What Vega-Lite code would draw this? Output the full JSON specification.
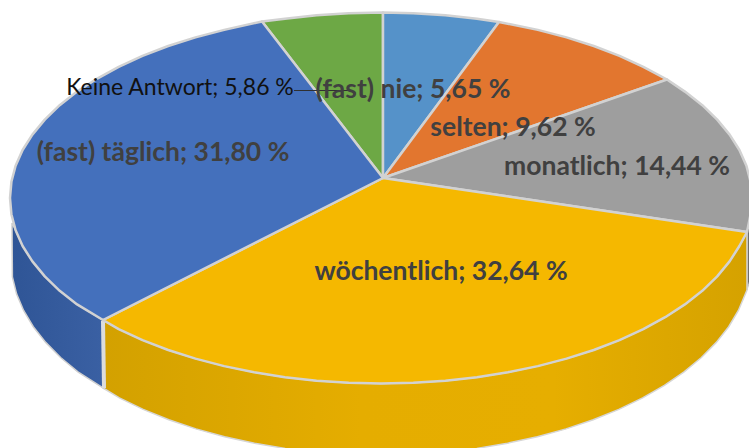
{
"$schema":"https://vega.github.io/schema/vega-lite/v6.json",
"width":749,"height":448,"autosize":{"type":"fit","contains":"padding"},"padding":0,
"background":"white","view":{"stroke":null},
"datasets":{
"yellowWall":[
{"n":1,"x":103,"y":320},{"n":2,"x":118.7,"y":329.2},{"n":3,"x":142.5,"y":340.1},{"n":4,"x":168.2,"y":350},{"n":5,"x":195.5,"y":358.6},{"n":6,"x":224.2,"y":366.1},{"n":7,"x":254.1,"y":372.3},{"n":8,"x":285,"y":377.2},{"n":9,"x":316.6,"y":380.7},{"n":10,"x":348.7,"y":382.8},{"n":11,"x":381,"y":383.5},{"n":12,"x":413.3,"y":382.8},{"n":13,"x":445.4,"y":380.7},{"n":14,"x":477,"y":377.2},{"n":15,"x":507.9,"y":372.3},{"n":16,"x":537.8,"y":366.1},{"n":17,"x":566.5,"y":358.6},{"n":18,"x":593.8,"y":350},{"n":19,"x":619.5,"y":340.1},{"n":20,"x":643.3,"y":329.2},{"n":21,"x":665.2,"y":317.2},{"n":22,"x":684.9,"y":304.4},{"n":23,"x":702.3,"y":290.8},{"n":24,"x":717.2,"y":276.4},{"n":25,"x":729.6,"y":261.4},{"n":26,"x":739.4,"y":246},{"n":27,"x":747,"y":232},
{"n":28,"x":747,"y":290},{"n":29,"x":738.4,"y":310.5},{"n":30,"x":728.7,"y":326.7},{"n":31,"x":716.3,"y":342.4},{"n":32,"x":701.4,"y":357.5},{"n":33,"x":684.1,"y":371.9},{"n":34,"x":664.4,"y":385.3},{"n":35,"x":642.6,"y":397.9},{"n":36,"x":618.8,"y":409.4},{"n":37,"x":593.2,"y":419.7},{"n":38,"x":566,"y":428.9},{"n":39,"x":537.4,"y":436.7},{"n":40,"x":507.5,"y":443.2},{"n":41,"x":476.8,"y":448.4},{"n":42,"x":445.2,"y":452},{"n":43,"x":413.3,"y":454.3},{"n":44,"x":381,"y":455},{"n":45,"x":348.7,"y":454.3},{"n":46,"x":316.8,"y":452},{"n":47,"x":285.2,"y":448.4},{"n":48,"x":254.5,"y":443.2},{"n":49,"x":224.6,"y":436.7},{"n":50,"x":196,"y":428.9},{"n":51,"x":168.8,"y":419.7},{"n":52,"x":143.2,"y":409.4},{"n":53,"x":119.4,"y":397.9},{"n":54,"x":103,"y":388},{"n":55,"x":103,"y":320}],
"blueWall":[
{"n":1,"x":103,"y":320},{"n":2,"x":77.1,"y":304.4},{"n":3,"x":59.7,"y":290.8},{"n":4,"x":44.8,"y":276.4},{"n":5,"x":32.4,"y":261.4},{"n":6,"x":22.6,"y":246},{"n":7,"x":15.6,"y":230.2},{"n":8,"x":12,"y":223},{"n":9,"x":12.4,"y":277},{"n":10,"x":16.6,"y":293.9},{"n":11,"x":23.6,"y":310.5},{"n":12,"x":33.3,"y":326.7},{"n":13,"x":45.7,"y":342.4},{"n":14,"x":60.6,"y":357.5},{"n":15,"x":77.9,"y":371.9},{"n":16,"x":103,"y":388},{"n":17,"x":103,"y":320}],
"grayWall":[{"n":1,"x":747,"y":232},{"n":2,"x":750.6,"y":214.2},{"n":3,"x":750.6,"y":278},{"n":4,"x":747,"y":290},{"n":5,"x":747,"y":232}],
"slices":[
{"slice":"Keine Antwort","n":1,"x":383,"y":178},{"slice":"Keine Antwort","n":2,"x":262,"y":21.5},{"slice":"Keine Antwort","n":3,"x":285,"y":18.8},{"slice":"Keine Antwort","n":4,"x":316.6,"y":15.3},{"slice":"Keine Antwort","n":5,"x":348.7,"y":13.2},{"slice":"Keine Antwort","n":6,"x":383,"y":12.5},{"slice":"Keine Antwort","n":7,"x":383,"y":178},
{"slice":"(fast) nie","n":1,"x":383,"y":178},{"slice":"(fast) nie","n":2,"x":383,"y":12.5},{"slice":"(fast) nie","n":3,"x":413.3,"y":13.2},{"slice":"(fast) nie","n":4,"x":445.4,"y":15.3},{"slice":"(fast) nie","n":5,"x":477,"y":18.8},{"slice":"(fast) nie","n":6,"x":499,"y":22},{"slice":"(fast) nie","n":7,"x":383,"y":178},
{"slice":"selten","n":1,"x":383,"y":178},{"slice":"selten","n":2,"x":499,"y":22},{"slice":"selten","n":3,"x":537.8,"y":29.9},{"slice":"selten","n":4,"x":566.5,"y":37.4},{"slice":"selten","n":5,"x":593.8,"y":46},{"slice":"selten","n":6,"x":619.5,"y":55.9},{"slice":"selten","n":7,"x":643.3,"y":66.8},{"slice":"selten","n":8,"x":667,"y":79.5},{"slice":"selten","n":9,"x":383,"y":178},
{"slice":"monatlich","n":1,"x":383,"y":178},{"slice":"monatlich","n":2,"x":667,"y":79.5},{"slice":"monatlich","n":3,"x":684.9,"y":91.6},{"slice":"monatlich","n":4,"x":702.3,"y":105.2},{"slice":"monatlich","n":5,"x":717.2,"y":119.6},{"slice":"monatlich","n":6,"x":729.6,"y":134.6},{"slice":"monatlich","n":7,"x":739.4,"y":150},{"slice":"monatlich","n":8,"x":746.4,"y":165.8},{"slice":"monatlich","n":9,"x":750.6,"y":181.8},{"slice":"monatlich","n":10,"x":752,"y":198},{"slice":"monatlich","n":11,"x":750.6,"y":214.2},{"slice":"monatlich","n":12,"x":747,"y":232},{"slice":"monatlich","n":13,"x":383,"y":178},
{"slice":"wöchentlich","n":1,"x":383,"y":178},{"slice":"wöchentlich","n":2,"x":747,"y":232},{"slice":"wöchentlich","n":3,"x":739.4,"y":246},{"slice":"wöchentlich","n":4,"x":729.6,"y":261.4},{"slice":"wöchentlich","n":5,"x":717.2,"y":276.4},{"slice":"wöchentlich","n":6,"x":702.3,"y":290.8},{"slice":"wöchentlich","n":7,"x":684.9,"y":304.4},{"slice":"wöchentlich","n":8,"x":665.2,"y":317.2},{"slice":"wöchentlich","n":9,"x":643.3,"y":329.2},{"slice":"wöchentlich","n":10,"x":619.5,"y":340.1},{"slice":"wöchentlich","n":11,"x":593.8,"y":350},{"slice":"wöchentlich","n":12,"x":566.5,"y":358.6},{"slice":"wöchentlich","n":13,"x":537.8,"y":366.1},{"slice":"wöchentlich","n":14,"x":507.9,"y":372.3},{"slice":"wöchentlich","n":15,"x":477,"y":377.2},{"slice":"wöchentlich","n":16,"x":445.4,"y":380.7},{"slice":"wöchentlich","n":17,"x":413.3,"y":382.8},{"slice":"wöchentlich","n":18,"x":381,"y":383.5},{"slice":"wöchentlich","n":19,"x":348.7,"y":382.8},{"slice":"wöchentlich","n":20,"x":316.6,"y":380.7},{"slice":"wöchentlich","n":21,"x":285,"y":377.2},{"slice":"wöchentlich","n":22,"x":254.1,"y":372.3},{"slice":"wöchentlich","n":23,"x":224.2,"y":366.1},{"slice":"wöchentlich","n":24,"x":195.5,"y":358.6},{"slice":"wöchentlich","n":25,"x":168.2,"y":350},{"slice":"wöchentlich","n":26,"x":142.5,"y":340.1},{"slice":"wöchentlich","n":27,"x":118.7,"y":329.2},{"slice":"wöchentlich","n":28,"x":103,"y":320},{"slice":"wöchentlich","n":29,"x":383,"y":178},
{"slice":"(fast) täglich","n":1,"x":383,"y":178},{"slice":"(fast) täglich","n":2,"x":103,"y":320},{"slice":"(fast) täglich","n":3,"x":77.1,"y":304.4},{"slice":"(fast) täglich","n":4,"x":59.7,"y":290.8},{"slice":"(fast) täglich","n":5,"x":44.8,"y":276.4},{"slice":"(fast) täglich","n":6,"x":32.4,"y":261.4},{"slice":"(fast) täglich","n":7,"x":22.6,"y":246},{"slice":"(fast) täglich","n":8,"x":15.6,"y":230.2},{"slice":"(fast) täglich","n":9,"x":11.4,"y":214.2},{"slice":"(fast) täglich","n":10,"x":10,"y":198},{"slice":"(fast) täglich","n":11,"x":11.4,"y":181.8},{"slice":"(fast) täglich","n":12,"x":15.6,"y":165.8},{"slice":"(fast) täglich","n":13,"x":22.6,"y":150},{"slice":"(fast) täglich","n":14,"x":32.4,"y":134.6},{"slice":"(fast) täglich","n":15,"x":44.8,"y":119.6},{"slice":"(fast) täglich","n":16,"x":59.7,"y":105.2},{"slice":"(fast) täglich","n":17,"x":77.1,"y":91.6},{"slice":"(fast) täglich","n":18,"x":96.8,"y":78.8},{"slice":"(fast) täglich","n":19,"x":118.7,"y":66.8},{"slice":"(fast) täglich","n":20,"x":142.5,"y":55.9},{"slice":"(fast) täglich","n":21,"x":168.2,"y":46},{"slice":"(fast) täglich","n":22,"x":195.5,"y":37.4},{"slice":"(fast) täglich","n":23,"x":224.2,"y":29.9},{"slice":"(fast) täglich","n":24,"x":262,"y":21.5},{"slice":"(fast) täglich","n":25,"x":383,"y":178}
],
"leader":[{"n":1,"x":294,"y":90.5},{"n":2,"x":352,"y":90.5}],
"junction":[{"n":1,"x":103,"y":321},{"n":2,"x":104,"y":388}],
"boldLabels":[
{"label":"(fast) nie; 5,65 %","x":413,"y":90},
{"label":"selten; 9,62 %","x":513,"y":128},
{"label":"monatlich; 14,44 %","x":617,"y":167},
{"label":"(fast) täglich; 31,80 %","x":163,"y":153},
{"label":"wöchentlich; 32,64 %","x":441,"y":272}],
"plainLabels":[{"label":"Keine Antwort; 5,86 %","x":180,"y":88}]
},
"encoding":{
"x":{"field":"x","type":"quantitative","scale":{"domain":[0,749],"nice":false,"zero":false},"axis":null},
"y":{"field":"y","type":"quantitative","scale":{"domain":[448,0],"nice":false,"zero":false},"axis":null}
},
"layer":[
{"data":{"name":"grayWall"},"mark":{"type":"line","filled":true,"fill":"#6f6f6f","stroke":"#c8c8c8","strokeWidth":1,"clip":true},"encoding":{"order":{"field":"n"}}},
{"data":{"name":"yellowWall"},"mark":{"type":"line","filled":true,"clip":true,"stroke":"#d6d6d6","strokeWidth":1.5,"fill":{"gradient":"linear","x1":0,"x2":1,"y1":0,"y2":0,"stops":[{"offset":0,"color":"#d3a100"},{"offset":0.4,"color":"#e5ad00"},{"offset":0.7,"color":"#e6ae00"},{"offset":1,"color":"#d5a200"}]}},"encoding":{"order":{"field":"n"}}},
{"data":{"name":"blueWall"},"mark":{"type":"line","filled":true,"clip":true,"stroke":"#cfcfcf","strokeWidth":1.5,"fill":{"gradient":"linear","x1":0,"x2":1,"y1":0,"y2":0,"stops":[{"offset":0,"color":"#2f5596"},{"offset":1,"color":"#3a60a3"}]}},"encoding":{"order":{"field":"n"}}},
{"data":{"name":"junction"},"mark":{"type":"line","stroke":"#dcdcdc","strokeWidth":4},"encoding":{"order":{"field":"n"}}},
{"data":{"name":"slices"},"mark":{"type":"line","filled":true,"clip":true,"stroke":"#d2d2d2","strokeWidth":2.5,"strokeJoin":"round"},
"encoding":{"order":{"field":"n"},"fill":{"field":"slice","type":"nominal","legend":null,"scale":{"domain":["(fast) nie","selten","monatlich","wöchentlich","(fast) täglich","Keine Antwort"],"range":["#5592c9","#e2762f","#9e9e9e","#f5b800","#4470bc","#6da845"]}}}},
{"data":{"name":"leader"},"mark":{"type":"line","stroke":"#303030","strokeWidth":1},"encoding":{"order":{"field":"n"}}},
{"data":{"name":"boldLabels"},"mark":{"type":"text","font":"Lato","fontWeight":"bold","fontSize":26.5,"fill":"#404040","align":"center","baseline":"middle"},"encoding":{"text":{"field":"label"}}},
{"data":{"name":"plainLabels"},"mark":{"type":"text","font":"Lato","fontSize":23,"fill":"#111111","align":"center","baseline":"middle"},"encoding":{"text":{"field":"label"}}}
]
}
